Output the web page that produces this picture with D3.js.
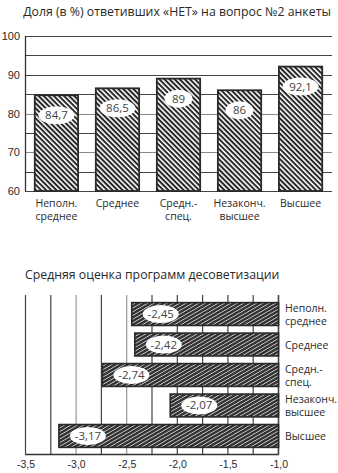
<!DOCTYPE html>
<html>
<head>
<meta charset="utf-8">
<script src="https://cdn.jsdelivr.net/npm/d3@7"></script>
<style>
  html, body { margin: 0; padding: 0; background: #fff; }
  svg { display: block; font-family: "Open Sans", "Noto Sans", sans-serif; }
</style>
</head>
<body>
<svg id="chart" width="338" height="473"></svg>
<script>
// Share of "NO" answers to question 2, by education level
const topTitle = "Доля (в %) ответивших «НЕТ» на вопрос №2 анкеты";
const topCategories = [["Неполн.", "среднее"], ["Среднее"], ["Средн.-", "спец."], ["Незаконч.", "высшее"], ["Высшее"]];
const topValues = [84.7, 86.5, 89, 86, 92.1];
const topTicks = [60, 70, 80, 90, 100];
const topGrid = [60, 65, 70, 75, 80, 85, 90, 95, 100];

// Average rating of de-sovietisation programmes
const botTitle = "Средняя оценка программ десоветизации";
const botCategories = [["Неполн.", "среднее"], ["Среднее"], ["Средн.-", "спец."], ["Незаконч.", "высшее"], ["Высшее"]];
const botValues = [-2.45, -2.42, -2.74, -2.07, -3.17];
const botTicks = [-3.5, -3.0, -2.5, -2.0, -1.5, -1.0];
const botGrid = [-3.5, -3.25, -3.0, -2.75, -2.5, -2.25, -2.0, -1.75, -1.5, -1.25, -1.0];

const fmt = v => String(v).replace(".", ",");
const fmt1 = v => v.toFixed(1).replace(".", ",");

const svg = d3.select("#chart");
const ink = "#2a2a2a";

// hatch patterns
const defs = svg.append("defs");
const hatchA = defs.append("pattern")
  .attr("id", "hatchA").attr("patternUnits", "userSpaceOnUse")
  .attr("width", 3.6).attr("height", 3.6)
  .attr("patternTransform", "rotate(45)");
hatchA.append("rect").attr("width", 3.6).attr("height", 3.6).attr("fill", "#fff");
hatchA.append("rect").attr("width", 3.6).attr("height", 2.0).attr("fill", "#262626");

const hatchB = defs.append("pattern")
  .attr("id", "hatchB").attr("patternUnits", "userSpaceOnUse")
  .attr("width", 3.2).attr("height", 3.2)
  .attr("patternTransform", "rotate(-30)");
hatchB.append("rect").attr("width", 3.2).attr("height", 3.2).attr("fill", "#333");
hatchB.append("rect").attr("width", 3.2).attr("height", 0.8).attr("fill", "#d0d0d0");

// ---------- top chart ----------
svg.append("text").attr("x", 177).attr("y", 16)
  .attr("text-anchor", "middle").attr("font-size", 12.3).attr("fill", ink)
  .text(topTitle);

const tx = d3.scaleBand().domain(d3.range(topValues.length))
  .range([25, 332]).paddingInner(0.29).paddingOuter(0.16);
const ty = d3.scaleLinear().domain([60, 100]).range([191, 36]);

const gTop = svg.append("g");
gTop.selectAll("line.grid").data(topGrid).join("line")
  .attr("x1", 25).attr("x2", 332)
  .attr("y1", d => Math.round(ty(d)) + 0.5).attr("y2", d => Math.round(ty(d)) + 0.5)
  .attr("stroke", d => d === 70 || d === 80 ? "#8a8a8a" : "#444")
  .attr("stroke-width", 1.1);

gTop.append("line").attr("x1", 25.5).attr("x2", 25.5).attr("y1", 36).attr("y2", 191.5)
  .attr("stroke", "#333").attr("stroke-width", 1.3);

const yAxis = d3.axisLeft(ty).tickValues(topTicks).tickSize(0).tickPadding(5);
const yg = gTop.append("g").attr("transform", "translate(25,0)").call(yAxis);
yg.select(".domain").remove();
yg.selectAll("text").attr("font-size", 11).attr("fill", ink).attr("font-family", "inherit");

gTop.selectAll("rect.bar").data(topValues).join("rect")
  .attr("x", (d, i) => tx(i)).attr("width", tx.bandwidth())
  .attr("y", d => ty(d)).attr("height", d => ty(60) - ty(d))
  .attr("fill", "url(#hatchA)").attr("stroke", "#2a2a2a").attr("stroke-width", 1.8);

gTop.selectAll("ellipse.lbl").data(topValues).join("ellipse")
  .attr("cx", (d, i) => tx(i) + tx.bandwidth() / 2).attr("cy", d => ty(d) + 20)
  .attr("rx", d => String(d).length > 2 ? 18 : 14).attr("ry", 9).attr("fill", "#fff");

gTop.selectAll("text.val").data(topValues).join("text")
  .attr("x", (d, i) => tx(i) + tx.bandwidth() / 2).attr("y", d => ty(d) + 24)
  .attr("text-anchor", "middle").attr("font-size", 11.5).attr("fill", "#444")
  .text(d => fmt(d));

topCategories.forEach((lines, i) => {
  const t = gTop.append("text").attr("x", tx(i) + tx.bandwidth() / 2).attr("y", 207)
    .attr("text-anchor", "middle").attr("font-size", 10.5).attr("fill", ink);
  lines.forEach((s, k) => t.append("tspan").attr("x", tx(i) + tx.bandwidth() / 2)
    .attr("dy", k === 0 ? 0 : 13).text(s));
});

// ---------- bottom chart ----------
svg.append("text").attr("x", 25).attr("y", 279)
  .attr("font-size", 12.3).attr("fill", ink).text(botTitle);

const bx = d3.scaleLinear().domain([-3.5, -1.0]).range([25.5, 278.5]);
const by = d3.scaleBand().domain(d3.range(botValues.length))
  .range([295, 455]).padding(0.25);

const gBot = svg.append("g");
gBot.selectAll("line.vgrid").data(botGrid).join("line")
  .attr("x1", d => bx(d)).attr("x2", d => bx(d))
  .attr("y1", 295).attr("y2", 454)
  .attr("stroke", d => d === -3.0 || d === -2.5 ? "#999" : "#444")
  .attr("stroke-width", d => d === -1.0 ? 1.6 : 1.2);

gBot.append("line").attr("x1", 25).attr("x2", 279).attr("y1", 454.5).attr("y2", 454.5)
  .attr("stroke", "#333").attr("stroke-width", 1.3);

const xAxis = d3.axisBottom(bx).tickValues(botTicks).tickSize(0).tickPadding(6).tickFormat(fmt1);
const xg = gBot.append("g").attr("transform", "translate(0,455)").call(xAxis);
xg.select(".domain").remove();
xg.selectAll("text").attr("font-size", 10.5).attr("fill", ink).attr("font-family", "inherit");

gBot.selectAll("rect.bar").data(botValues).join("rect")
  .attr("x", d => bx(d)).attr("width", d => bx(-1.0) - bx(d))
  .attr("y", (d, i) => by(i)).attr("height", by.bandwidth())
  .attr("fill", "url(#hatchB)").attr("stroke", "#2a2a2a").attr("stroke-width", 1.6);

gBot.selectAll("ellipse.lbl").data(botValues).join("ellipse")
  .attr("cx", d => bx(d) + 29).attr("cy", (d, i) => by(i) + by.bandwidth() / 2)
  .attr("rx", 18).attr("ry", 9).attr("fill", "#fff");

gBot.selectAll("text.val").data(botValues).join("text")
  .attr("x", d => bx(d) + 29).attr("y", (d, i) => by(i) + by.bandwidth() / 2 + 4)
  .attr("text-anchor", "middle").attr("font-size", 11.5).attr("fill", "#444")
  .text(d => fmt(d));

botCategories.forEach((lines, i) => {
  const y0 = by(i) + by.bandwidth() / 2 + (lines.length === 1 ? 4 : -2.5);
  const t = gBot.append("text").attr("x", 285).attr("y", y0)
    .attr("font-size", 10.5).attr("fill", ink);
  lines.forEach((s, k) => t.append("tspan").attr("x", 285)
    .attr("dy", k === 0 ? 0 : 13).text(s));
});
</script>
</body>
</html>
